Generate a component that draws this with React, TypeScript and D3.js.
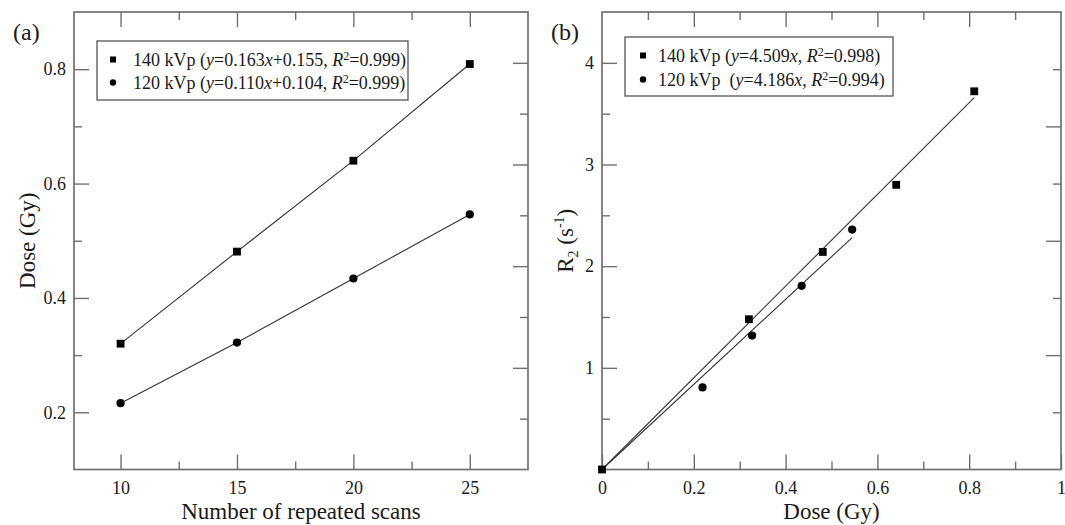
import { useEffect, useRef } from "react";
import * as d3 from "d3";

// panel (a): dose vs number of repeated scans
const scans = [10, 15, 20, 25];
const dose140 = [0.32, 0.481, 0.64, 0.809];
const dose120 = [0.216, 0.322, 0.434, 0.546];

// panel (b): R2 vs dose
const r2Dose140 = [0, 0.32, 0.481, 0.641, 0.811];
const r2Val140 = [0, 1.478, 2.14, 2.8, 3.72];
const r2Dose120 = [0.219, 0.327, 0.435, 0.545];
const r2Val120 = [0.807, 1.317, 1.807, 2.36];
const fitSlopes = [4.509, 4.186];

// ticks
const aXMajor = [10, 15, 20, 25];
const aXMinor = [12.5, 17.5, 22.5];
const aYMajor = [0.2, 0.4, 0.6, 0.8];
const aYMinor = [0.3, 0.5, 0.7];
const aRightMajor = [0.2, 0.4, 0.6, 0.8];
const aRightMinor = [0.1, 0.3, 0.5, 0.7];
const bXMajor = [0, 0.2, 0.4, 0.6, 0.8, 1];
const bXMinor = [0.1, 0.3, 0.5, 0.7, 0.9];
const bYMajor = [1, 2, 3, 4];
const bYMinor = [0.5, 1.5, 2.5, 3.5];
const bRightMajor = [0.3, 0.5, 0.7];
const bRightMinor = [0.2, 0.4, 0.6, 0.8];

// legend texts: [text, italic, superscript]
type Seg = [string, boolean, boolean];
const legendA: Seg[][] = [
  [["140 kVp (", false, false], ["y", true, false], ["=0.163", false, false], ["x", true, false], ["+0.155, ", false, false], ["R", true, false], ["2", false, true], ["=0.999)", false, false]],
  [["120 kVp (", false, false], ["y", true, false], ["=0.110", false, false], ["x", true, false], ["+0.104, ", false, false], ["R", true, false], ["2", false, true], ["=0.999)", false, false]],
];
const legendB: Seg[][] = [
  [["140 kVp (", false, false], ["y", true, false], ["=4.509", false, false], ["x", true, false], [", ", false, false], ["R", true, false], ["2", false, true], ["=0.998)", false, false]],
  [["120 kVp  (", false, false], ["y", true, false], ["=4.186", false, false], ["x", true, false], [", ", false, false], ["R", true, false], ["2", false, true], ["=0.994)", false, false]],
];

const FONT = "'Liberation Serif', 'Times New Roman', serif";
const AXIS = "#707070";
const INK = "#1a1a1a";

export default function App() {
  const ref = useRef<SVGSVGElement>(null);

  useEffect(() => {
    const svg = d3.select(ref.current).html("");
    svg.append("rect").attr("width", 1065).attr("height", 525).attr("fill", "#fff");

    const top = 12, bottom = 469.5;

    const addAxis = (axis: any, transform: string, values: number[], size: number, fmt: any, pad = 0) => {
      const g = svg.append("g").attr("transform", transform)
        .call(axis.tickValues(values).tickSize(size).tickPadding(pad).tickFormat(fmt || (() => "")));
      g.select(".domain").remove();
      g.selectAll("line").attr("stroke", AXIS).attr("stroke-width", 1.4);
      g.selectAll("text").attr("font-family", FONT).attr("font-size", 18).attr("fill", INK);
    };

    const frame = (x0: number, x1: number) => {
      svg.append("rect")
        .attr("x", x0).attr("y", top)
        .attr("width", x1 - x0).attr("height", bottom - top)
        .attr("fill", "none").attr("stroke", AXIS).attr("stroke-width", 1.7);
    };

    const markers = (xs: number[], ys: number[], x: any, y: any, shape: string) => {
      xs.forEach((v, i) => {
        if (shape === "square") {
          svg.append("rect")
            .attr("x", x(v) - 3.9).attr("y", y(ys[i]) - 3.9)
            .attr("width", 7.8).attr("height", 7.8).attr("fill", "#000");
        } else {
          svg.append("circle").attr("cx", x(v)).attr("cy", y(ys[i])).attr("r", 4.1).attr("fill", "#000");
        }
      });
    };

    const legend = (bx: number, by: number, bw: number, bh: number, mx: number, tx: number, rows: number[], entries: Seg[][]) => {
      svg.append("rect").attr("x", bx).attr("y", by).attr("width", bw).attr("height", bh)
        .attr("fill", "#fff").attr("stroke", "#555").attr("stroke-width", 1.3);
      entries.forEach((segs, i) => {
        const cy = rows[i];
        if (i === 0) {
          svg.append("rect").attr("x", mx - 3).attr("y", cy - 3).attr("width", 6).attr("height", 6).attr("fill", "#000");
        } else {
          svg.append("circle").attr("cx", mx).attr("cy", cy).attr("r", 3.2).attr("fill", "#000");
        }
        const t = svg.append("text").attr("x", tx).attr("y", cy + 6)
          .attr("font-family", FONT).attr("font-size", 18).attr("fill", INK)
          .style("white-space", "pre");
        let raised = false;
        segs.forEach(([s, it, sup]) => {
          const sp = t.append("tspan").text(s);
          if (it) sp.attr("font-style", "italic");
          if (sup) {
            sp.attr("font-size", 12).attr("dy", -6);
            raised = true;
          } else if (raised) {
            sp.attr("dy", 6);
            raised = false;
          }
        });
      });
    };

    // ---------- panel (a)
    const xa = d3.scaleLinear().domain([8, 27.5]).range([74, 528]);
    const ya = d3.scaleLinear().domain([0.1, 0.9]).range([bottom, top]);
    const yaR = d3.scaleLinear().domain([0, 0.9]).range([bottom, top]);

    addAxis(d3.axisBottom(xa), `translate(0,${bottom})`, aXMajor, -15, d3.format("d"), 12);
    addAxis(d3.axisBottom(xa), `translate(0,${bottom})`, aXMinor, -8, null);
    addAxis(d3.axisTop(xa), `translate(0,${top})`, aXMajor, -15, null);
    addAxis(d3.axisTop(xa), `translate(0,${top})`, aXMinor, -8, null);
    addAxis(d3.axisLeft(ya), `translate(74,0)`, aYMajor, -15, d3.format(".1f"), 8);
    addAxis(d3.axisLeft(ya), `translate(74,0)`, aYMinor, -8, null);
    addAxis(d3.axisRight(yaR), `translate(528,0)`, aRightMajor, -15, null);
    addAxis(d3.axisRight(yaR), `translate(528,0)`, aRightMinor, -8, null);
    frame(74, 528);

    const lineA = d3.line<number>().x((_, i) => xa(scans[i]));
    svg.append("path").datum(dose140).attr("fill", "none").attr("stroke", "#333").attr("stroke-width", 1.1)
      .attr("d", lineA.y((d) => ya(d)));
    svg.append("path").datum(dose120).attr("fill", "none").attr("stroke", "#333").attr("stroke-width", 1.1)
      .attr("d", lineA.y((d) => ya(d)));
    markers(scans, dose140, xa, ya, "square");
    markers(scans, dose120, xa, ya, "circle");

    legend(97, 41, 311, 59, 113, 133, [59.5, 82.5], legendA);

    svg.append("text").attr("x", 13).attr("y", 40).attr("font-family", FONT).attr("font-size", 24).attr("fill", INK).text("(a)");
    svg.append("text").attr("x", (74 + 528) / 2).attr("y", 519).attr("text-anchor", "middle")
      .attr("font-family", FONT).attr("font-size", 23).attr("fill", INK).text("Number of repeated scans");
    svg.append("text").attr("transform", `translate(35,${(top + bottom) / 2}) rotate(-90)`).attr("text-anchor", "middle")
      .attr("font-family", FONT).attr("font-size", 23).attr("fill", INK).text("Dose (Gy)");

    // ---------- panel (b)
    const xb = d3.scaleLinear().domain([0, 1]).range([602, 1061]);
    const yb = d3.scaleLinear().domain([0, 4.5]).range([bottom, top]);
    const ybR = d3.scaleLinear().domain([0.1, 0.9]).range([bottom, top]);

    addAxis(d3.axisBottom(xb), `translate(0,${bottom})`, bXMajor, -15, (d: number) => String(d), 12);
    addAxis(d3.axisBottom(xb), `translate(0,${bottom})`, bXMinor, -8, null);
    addAxis(d3.axisTop(xb), `translate(0,${top})`, bXMajor.slice(1, 5), -15, null);
    addAxis(d3.axisTop(xb), `translate(0,${top})`, bXMinor, -8, null);
    addAxis(d3.axisLeft(yb), `translate(602,0)`, bYMajor, -15, d3.format("d"), 8);
    addAxis(d3.axisLeft(yb), `translate(602,0)`, bYMinor, -8, null);
    addAxis(d3.axisRight(ybR), `translate(1061,0)`, bRightMajor, -15, null);
    addAxis(d3.axisRight(ybR), `translate(1061,0)`, bRightMinor, -8, null);
    frame(602, 1061);

    // fitted lines through origin up to the largest dose of each series
    const fitEnds = [d3.max(r2Dose140) as number, d3.max(r2Dose120) as number];
    fitSlopes.forEach((k, i) => {
      svg.append("line")
        .attr("x1", xb(0)).attr("y1", yb(0))
        .attr("x2", xb(fitEnds[i])).attr("y2", yb(k * fitEnds[i]))
        .attr("stroke", "#333").attr("stroke-width", 1.1);
    });
    markers(r2Dose120, r2Val120, xb, yb, "circle");
    markers(r2Dose140, r2Val140, xb, yb, "square");

    legend(625, 37, 268, 59, 643, 658, [55.5, 79.5], legendB);

    svg.append("text").attr("x", 551).attr("y", 40).attr("font-family", FONT).attr("font-size", 24).attr("fill", INK).text("(b)");
    svg.append("text").attr("x", (602 + 1061) / 2).attr("y", 519).attr("text-anchor", "middle")
      .attr("font-family", FONT).attr("font-size", 23).attr("fill", INK).text("Dose (Gy)");
    const yt = svg.append("text").attr("transform", `translate(573,${(top + bottom) / 2}) rotate(-90)`).attr("text-anchor", "middle")
      .attr("font-family", FONT).attr("font-size", 23).attr("fill", INK);
    yt.append("tspan").text("R");
    yt.append("tspan").attr("font-size", 14).attr("dy", 5).text("2");
    yt.append("tspan").attr("dy", -5).text(" (s");
    yt.append("tspan").attr("font-size", 14).attr("dy", -9).text("-1");
    yt.append("tspan").attr("dy", 9).text(")");
  }, []);

  return (
    <svg
      ref={ref}
      width={1065}
      height={525}
      style={{ position: "absolute", left: 0, top: 0 }}
    />
  );
}
